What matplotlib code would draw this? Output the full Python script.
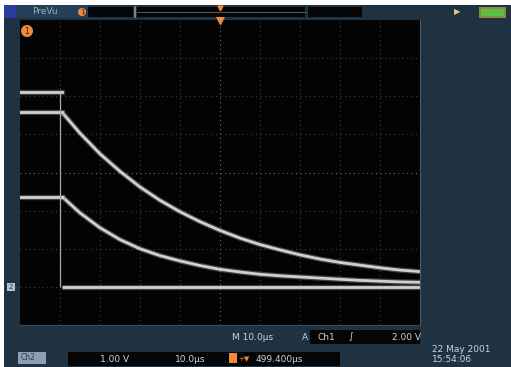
import matplotlib
matplotlib.use("Agg")
import matplotlib.pyplot as plt
from matplotlib.patches import Rectangle

# time axis in microseconds (10 div x 10 us), voltage in V (1 V/div, ground 1 div up)
t_curve = [10.5, 15, 20, 25, 30, 35, 40, 45, 50, 55, 60, 65, 70, 75, 80, 85, 90, 95, 100]
v_upper = [4.58, 4.03, 3.49, 3.03, 2.62, 2.27, 1.97, 1.71, 1.48, 1.28, 1.11, 0.97,
           0.84, 0.73, 0.64, 0.57, 0.50, 0.44, 0.40]
v_lower = [2.37, 1.94, 1.55, 1.24, 1.00, 0.82, 0.68, 0.56, 0.46, 0.39, 0.33, 0.29,
           0.26, 0.23, 0.20, 0.17, 0.15, 0.13, 0.12]
t_pre = [0, 10.5]
v_pulse = 5.1
t_edge = 10.0
t_base = [10.5, 100]
v_base = [0.0, 0.0]

W, H = 511, 367
BG = "#1e3242"
TRACE = "#d0d0d0"

fig = plt.figure(figsize=(W / 100, H / 100), dpi=100)
fig.patch.set_facecolor(BG)


def px(x, y):
    return x / W, 1 - y / H


def box(x0, y0, x1, y1, color):
    fig.patches.append(Rectangle(px(x0, y1), (x1 - x0) / W, (y1 - y0) / H,
                                 transform=fig.transFigure, facecolor=color,
                                 edgecolor="none", lw=0))


def txt(x, y, s, color="#cfd3d8", size=6.5, **kw):
    fig.text(*px(x, y), s, color=color, fontsize=size, va="center",
             family="DejaVu Sans", **kw)


# white border strips
box(0, 0, W, 5, "white")
box(0, 0, 4, H, "white")

# graticule
ax = fig.add_axes([20 / W, (H - 325) / H, 400 / W, 305 / H])
ax.set_facecolor("#030303")
ax.set_xlim(0, 100)
ax.set_ylim(-1, 7)
ax.set_xticks([])
ax.set_yticks([])
for s in ax.spines.values():
    s.set_visible(False)
ax.spines["right"].set_visible(True)
ax.spines["right"].set_color("#4a5a66")
ax.spines["bottom"].set_visible(True)
ax.spines["bottom"].set_color("#3a4a56")

for x in range(10, 100, 10):
    c, a = ("#808080", 0.85) if x == 50 else ("#4e4e4e", 0.8)
    ax.axvline(x, color=c, lw=0.8, ls=(0, (1, 3)), alpha=a)
for y in range(0, 7):
    c, a = ("#808080", 0.85) if y == 3 else ("#4e4e4e", 0.8)
    ax.axhline(y, color=c, lw=0.8, ls=(0, (1, 3)), alpha=a)

# traces
for tt, vv in [(t_curve, v_upper), (t_curve, v_lower), (t_base, v_base)]:
    ax.plot(tt, vv, color="#8a8a8a", lw=3.8, alpha=0.45, solid_capstyle="butt")
    ax.plot(tt, vv, color=TRACE, lw=2.0, solid_capstyle="butt")
for v in [v_pulse, v_upper[0], v_lower[0]]:
    ax.plot(t_pre, [v, v], color="#8a8a8a", lw=3.8, alpha=0.45)
    ax.plot(t_pre, [v, v], color=TRACE, lw=2.0)
ax.vlines(t_edge, 0, v_pulse, color="#a8a8a8", lw=0.9)

# markers on graticule
ax.plot(50, 7, marker="v", color="#f08a3a", ms=6, clip_on=False)
txt(27, 31, "1", color="#222222", size=5.5, ha="center",
    bbox=dict(boxstyle="circle,pad=0.2", fc="#f08a3a", ec="none"))
txt(11, 287, "2", color="#1e3242", size=5, ha="center",
    bbox=dict(boxstyle="square,pad=0.2", fc="#b8c0c8", ec="none"))

# top bar
box(4, 5, 16, 18, "#2c3c9c")
box(16, 5, 88, 18, "#22405a")
txt(32, 12, "PreVu", color="#9cb0a0", size=6.5)
txt(82, 12, "1", color="#222222", size=5, ha="center",
    bbox=dict(boxstyle="circle,pad=0.15", fc="#f08a3a", ec="none"))
box(88, 7, 133, 17, "#050505")
box(134, 6, 136, 18, "#7a8088")
box(137, 7, 305, 17, "#050505")
fig.lines.append(plt.Line2D([137 / W, 305 / W], [1 - 12 / H] * 2,
                            transform=fig.transFigure, color="#6a6a6a", lw=0.6))
fig.lines.append(plt.Line2D([220 / W], [1 - 8 / H], transform=fig.transFigure,
                            marker="v", color="#f08a3a", ms=3.5))
box(308, 7, 362, 17, "#050505")
txt(454, 12, "\u25b6", color="#e8c880", size=6)
box(479, 7, 506, 18, "#8a8a40")
box(481, 9, 504, 16, "#5cc044")

# bottom status
txt(232, 337, "M 10.0\u00b5s", size=6.5)
txt(302, 337, "A", size=6.5)
box(310, 330, 420, 344, "#050505")
txt(318, 337, "Ch1", size=6.5)
txt(348, 337, "\u222b", size=6.5)
txt(392, 337, "2.00 V", size=6.5)

box(18, 352, 46, 364, "#8aa0b2")
txt(21, 358, "Ch2", color="#2a3a4a", size=5.5)
box(68, 352, 340, 366, "#050505")
txt(100, 359, "1.00 V", size=6.5)
txt(175, 359, "10.0\u00b5s", size=6.5)
box(229, 353, 237, 363, "#f08a3a")
txt(238, 359, "+\u25bc", color="#f08a3a", size=5)
txt(256, 359, "499.400\u00b5s", size=6.5)

txt(432, 349, "22 May 2001", size=6.5)
txt(432, 360, "15:54:06", size=6.5)

fig.savefig("out.png", dpi=100, facecolor=BG)
